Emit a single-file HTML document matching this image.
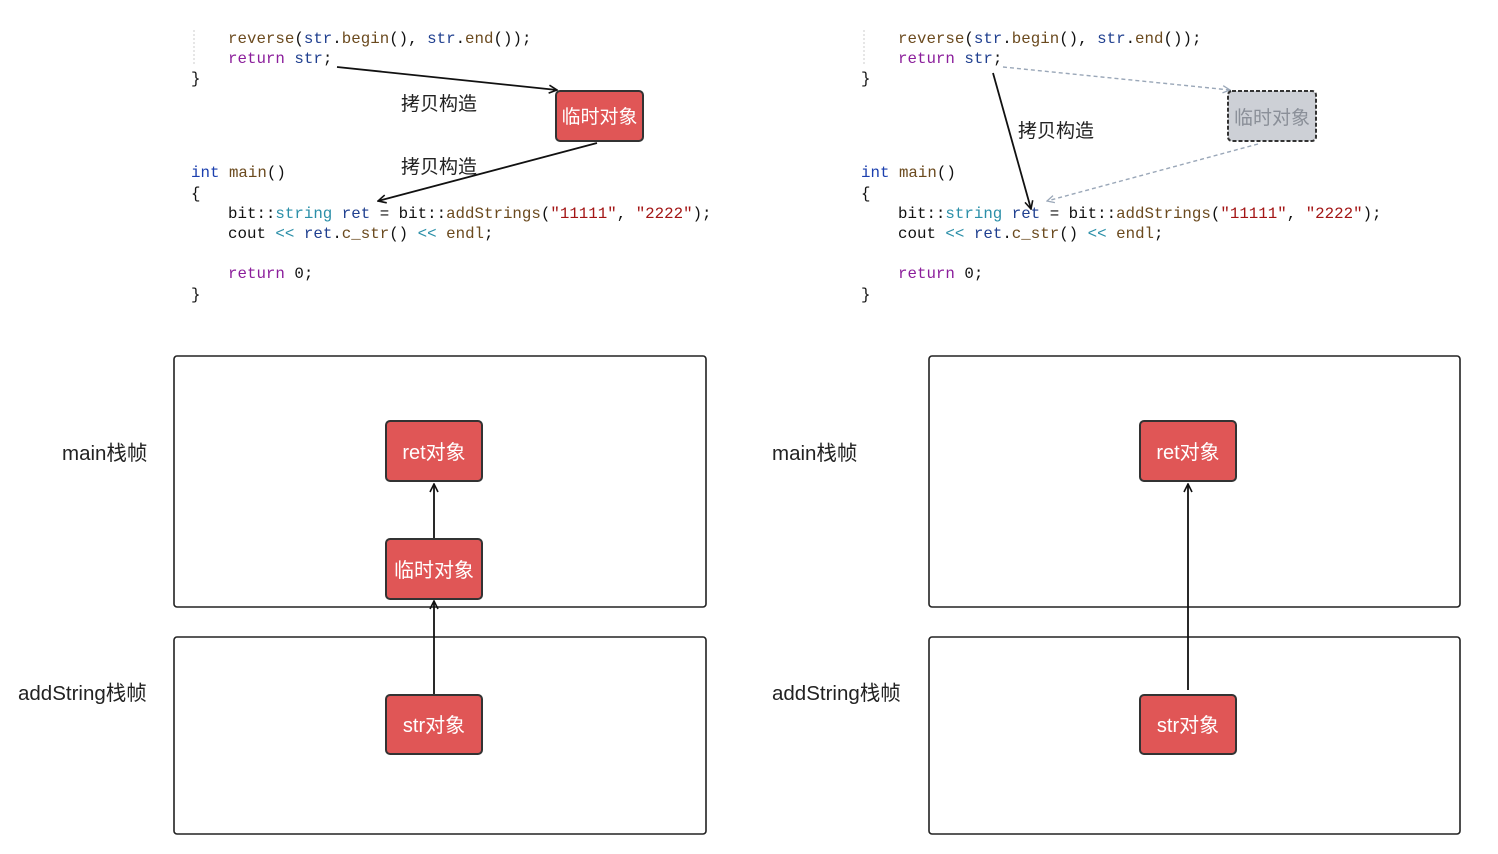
<!DOCTYPE html>
<html><head><meta charset="utf-8"><style>
html,body{margin:0;padding:0;background:#fff;}
svg{display:block}
.c{font-family:"Liberation Mono",monospace;font-size:15.8px;}
.z{font-family:"Liberation Sans","Noto Sans CJK SC",sans-serif;}
.kw{fill:#8b1e9b}.fn{fill:#6b4a1e}.ty{fill:#2b8fa8}.id{fill:#1f3f8f}.st{fill:#a31515}.bk{fill:#111}.bl{fill:#1b3fae}
</style></head><body>
<svg width="1498" height="854" viewBox="0 0 1498 854" xmlns="http://www.w3.org/2000/svg">
<defs>
<marker id="a" viewBox="0 0 10 10" refX="9" refY="5" markerWidth="10" markerHeight="10" orient="auto-start-reverse" markerUnits="userSpaceOnUse"><path d="M1,1 L9,5 L1,9" fill="none" stroke="#111" stroke-width="1.6"/></marker>
<marker id="g" viewBox="0 0 10 10" refX="9" refY="5" markerWidth="9" markerHeight="9" orient="auto" markerUnits="userSpaceOnUse"><path d="M1,1 L9,5 L1,9" fill="none" stroke="#9aa7b8" stroke-width="1.4"/></marker>
</defs>

<!-- LEFT CODE -->
<g class="c">
<line x1="194" y1="30" x2="194" y2="66" stroke="#ccc" stroke-dasharray="2,2"/>
<text x="228" y="43"><tspan class="fn">reverse</tspan><tspan class="bk">(</tspan><tspan class="id">str</tspan><tspan class="bk">.</tspan><tspan class="fn">begin</tspan><tspan class="bk">(), </tspan><tspan class="id">str</tspan><tspan class="bk">.</tspan><tspan class="fn">end</tspan><tspan class="bk">());</tspan></text>
<text x="228" y="63"><tspan class="kw">return</tspan><tspan class="bk"> </tspan><tspan class="id">str</tspan><tspan class="bk">;</tspan></text>
<text x="191" y="83" class="bk">}</text>
<text x="191" y="177"><tspan class="bl">int</tspan><tspan class="bk"> </tspan><tspan class="fn">main</tspan><tspan class="bk">()</tspan></text>
<text x="191" y="198" class="bk">{</text>
<text x="228" y="218"><tspan class="bk">bit::</tspan><tspan class="ty">string</tspan><tspan class="bk"> </tspan><tspan class="id">ret</tspan><tspan class="bk"> = bit::</tspan><tspan class="fn">addStrings</tspan><tspan class="bk">(</tspan><tspan class="st">"11111"</tspan><tspan class="bk">, </tspan><tspan class="st">"2222"</tspan><tspan class="bk">);</tspan></text>
<text x="228" y="238"><tspan class="bk">cout </tspan><tspan class="ty">&lt;&lt;</tspan><tspan class="bk"> </tspan><tspan class="id">ret</tspan><tspan class="bk">.</tspan><tspan class="fn">c_str</tspan><tspan class="bk">() </tspan><tspan class="ty">&lt;&lt;</tspan><tspan class="bk"> </tspan><tspan class="fn">endl</tspan><tspan class="bk">;</tspan></text>
<text x="228" y="278"><tspan class="kw">return</tspan><tspan class="bk"> 0;</tspan></text>
<text x="191" y="299" class="bk">}</text>
</g>
<line x1="337" y1="67" x2="557" y2="90" stroke="#111" stroke-width="1.8" marker-end="url(#a)"/>
<line x1="597" y1="143" x2="378" y2="201" stroke="#111" stroke-width="1.8" marker-end="url(#a)"/>
<text x="401" y="110" class="z" font-size="19" fill="#222">拷贝构造</text>
<text x="401" y="173" class="z" font-size="19" fill="#222">拷贝构造</text>
<rect x="556" y="91" width="87" height="50" rx="4" fill="#e05656" stroke="#333" stroke-width="2"/>
<text x="599.5" y="123" text-anchor="middle" class="z" font-size="19" fill="#fff">临时对象</text>

<!-- RIGHT CODE -->
<g class="c">
<line x1="864" y1="30" x2="864" y2="66" stroke="#ccc" stroke-dasharray="2,2"/>
<text x="898" y="43"><tspan class="fn">reverse</tspan><tspan class="bk">(</tspan><tspan class="id">str</tspan><tspan class="bk">.</tspan><tspan class="fn">begin</tspan><tspan class="bk">(), </tspan><tspan class="id">str</tspan><tspan class="bk">.</tspan><tspan class="fn">end</tspan><tspan class="bk">());</tspan></text>
<text x="898" y="63"><tspan class="kw">return</tspan><tspan class="bk"> </tspan><tspan class="id">str</tspan><tspan class="bk">;</tspan></text>
<text x="861" y="83" class="bk">}</text>
<text x="861" y="177"><tspan class="bl">int</tspan><tspan class="bk"> </tspan><tspan class="fn">main</tspan><tspan class="bk">()</tspan></text>
<text x="861" y="198" class="bk">{</text>
<text x="898" y="218"><tspan class="bk">bit::</tspan><tspan class="ty">string</tspan><tspan class="bk"> </tspan><tspan class="id">ret</tspan><tspan class="bk"> = bit::</tspan><tspan class="fn">addStrings</tspan><tspan class="bk">(</tspan><tspan class="st">"11111"</tspan><tspan class="bk">, </tspan><tspan class="st">"2222"</tspan><tspan class="bk">);</tspan></text>
<text x="898" y="238"><tspan class="bk">cout </tspan><tspan class="ty">&lt;&lt;</tspan><tspan class="bk"> </tspan><tspan class="id">ret</tspan><tspan class="bk">.</tspan><tspan class="fn">c_str</tspan><tspan class="bk">() </tspan><tspan class="ty">&lt;&lt;</tspan><tspan class="bk"> </tspan><tspan class="fn">endl</tspan><tspan class="bk">;</tspan></text>
<text x="898" y="278"><tspan class="kw">return</tspan><tspan class="bk"> 0;</tspan></text>
<text x="861" y="299" class="bk">}</text>
</g>
<line x1="1003" y1="67" x2="1230" y2="90" stroke="#9aa7b8" stroke-width="1.4" stroke-dasharray="4,3" marker-end="url(#g)"/>
<line x1="1258" y1="144" x2="1047" y2="201" stroke="#9aa7b8" stroke-width="1.4" stroke-dasharray="4,3" marker-end="url(#g)"/>
<line x1="993" y1="73" x2="1031" y2="209" stroke="#111" stroke-width="1.8" marker-end="url(#a)"/>
<text x="1018" y="137" class="z" font-size="19" fill="#222">拷贝构造</text>
<rect x="1228" y="91" width="88" height="50" rx="4" fill="#cdd0d6" stroke="#333" stroke-width="2" stroke-dasharray="4,2"/>
<text x="1272" y="124" text-anchor="middle" class="z" font-size="19" fill="#8a8f98">临时对象</text>

<!-- FRAMES LEFT -->
<rect x="174" y="356" width="532" height="251" rx="3" fill="none" stroke="#222" stroke-width="1.6"/>
<rect x="174" y="637" width="532" height="197" rx="3" fill="none" stroke="#222" stroke-width="1.6"/>
<text x="62" y="460" class="z" font-size="20.5" fill="#222">main栈帧</text>
<text x="18" y="700" class="z" font-size="20.5" fill="#222">addString栈帧</text>
<line x1="434" y1="694" x2="434" y2="601" stroke="#111" stroke-width="1.8" marker-end="url(#a)"/>
<line x1="434" y1="538" x2="434" y2="484" stroke="#111" stroke-width="1.8" marker-end="url(#a)"/>
<rect x="386" y="421" width="96" height="60" rx="4" fill="#e05656" stroke="#333" stroke-width="2"/>
<text x="434" y="459" text-anchor="middle" class="z" font-size="20" fill="#fff">ret对象</text>
<rect x="386" y="539" width="96" height="60" rx="4" fill="#e05656" stroke="#333" stroke-width="2"/>
<text x="434" y="577" text-anchor="middle" class="z" font-size="20" fill="#fff">临时对象</text>
<rect x="386" y="695" width="96" height="59" rx="4" fill="#e05656" stroke="#333" stroke-width="2"/>
<text x="434" y="732" text-anchor="middle" class="z" font-size="20" fill="#fff">str对象</text>

<!-- FRAMES RIGHT -->
<rect x="929" y="356" width="531" height="251" rx="3" fill="none" stroke="#222" stroke-width="1.6"/>
<rect x="929" y="637" width="531" height="197" rx="3" fill="none" stroke="#222" stroke-width="1.6"/>
<text x="772" y="460" class="z" font-size="20.5" fill="#222">main栈帧</text>
<text x="772" y="700" class="z" font-size="20.5" fill="#222">addString栈帧</text>
<line x1="1188" y1="690" x2="1188" y2="484" stroke="#111" stroke-width="1.8" marker-end="url(#a)"/>
<rect x="1140" y="421" width="96" height="60" rx="4" fill="#e05656" stroke="#333" stroke-width="2"/>
<text x="1188" y="459" text-anchor="middle" class="z" font-size="20" fill="#fff">ret对象</text>
<rect x="1140" y="695" width="96" height="59" rx="4" fill="#e05656" stroke="#333" stroke-width="2"/>
<text x="1188" y="732" text-anchor="middle" class="z" font-size="20" fill="#fff">str对象</text>
</svg>
</body></html>
